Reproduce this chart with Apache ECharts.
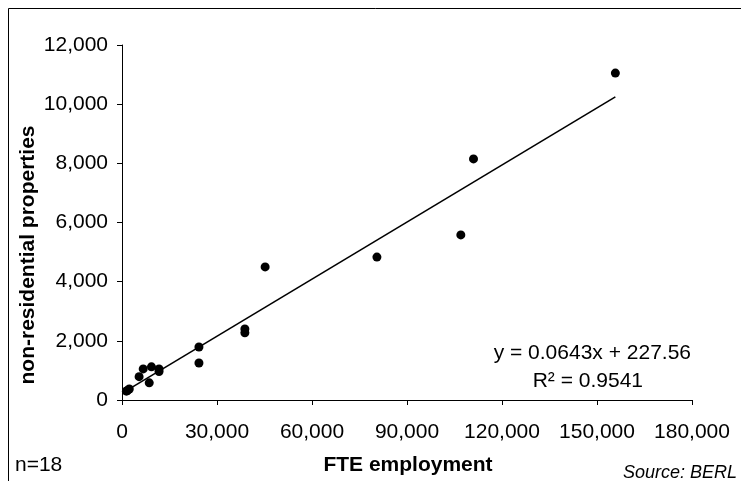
<!DOCTYPE html>
<html>
<head>
<meta charset="utf-8">
<script src="https://cdn.jsdelivr.net/npm/echarts@6/dist/echarts.min.js"></script>
<style>
  html, body { margin: 0; padding: 0; background: #fff; }
  #chart { width: 741px; height: 481px; }
</style>
</head>
<body>
<div id="chart"></div>
<script>
// FTE employment (x) vs non-residential properties (y)
var employment = [1400, 1700, 2300, 5400, 6700, 8600, 9300, 11700, 11700, 24300, 24300, 38800, 38800, 45200, 80500, 107000, 111000, 155800];
var properties = [300, 320, 370, 790, 1050, 580, 1120, 1050, 960, 1790, 1250, 2400, 2270, 4500, 4830, 5580, 8150, 11050];
var xTicks = [0, 30000, 60000, 90000, 120000, 150000, 180000];
var slope = 0.0643;
var intercept = 227.56;

var points = employment.map(function (x, i) { return [x, properties[i]]; });
var xMin = Math.min.apply(null, employment);
var xMax = Math.max.apply(null, employment);
var trend = [[xMin, slope * xMin + intercept], [xMax, slope * xMax + intercept]];

var font = "Liberation Sans, Arial, sans-serif";
var fmt = function (v) { return v.toLocaleString("en-US"); };

var chart = echarts.init(document.getElementById("chart"));
chart.setOption({
  animation: false,
  backgroundColor: "#fff",
  grid: { left: 122, top: 45, right: 49, bottom: 81 },
  xAxis: {
    type: "value",
    min: xTicks[0],
    max: xTicks[xTicks.length - 1],
    interval: 30000,
    splitLine: { show: false },
    axisLine: { onZero: false, lineStyle: { color: "#000", width: 1 } },
    axisTick: { show: true, length: 5, lineStyle: { color: "#000" } },
    axisLabel: { color: "#000", fontFamily: font, fontSize: 21, margin: 22, formatter: fmt }
  },
  yAxis: {
    type: "value",
    min: 0,
    max: 12000,
    interval: 2000,
    splitLine: { show: false },
    axisLine: { show: true, lineStyle: { color: "#000", width: 1 } },
    axisTick: { show: true, length: 5, lineStyle: { color: "#000" } },
    axisLabel: { color: "#000", fontFamily: font, fontSize: 21, margin: 14, formatter: fmt }
  },
  series: [
    {
      type: "line",
      data: trend,
      symbol: "none",
      lineStyle: { color: "#000", width: 1.6 },
      z: 1
    },
    {
      type: "scatter",
      data: points,
      symbol: "circle",
      symbolSize: 9,
      itemStyle: { color: "#000", opacity: 1 },
      z: 2
    }
  ],
  graphic: [
    {
      type: "rect",
      shape: { x: 8.5, y: 8.5, width: 800, height: 600 },
      style: { fill: null, stroke: "#000", lineWidth: 1 },
      silent: true
    },
    {
      type: "text",
      x: 28, y: 255, rotation: Math.PI / 2,
      style: { text: "non-residential properties", fontFamily: font, fontSize: 21, fontWeight: "bold", fill: "#000", align: "center", verticalAlign: "middle" }
    },
    {
      type: "text",
      x: 408, y: 465,
      style: { text: "FTE employment", fontFamily: font, fontSize: 21, fontWeight: "bold", fill: "#000", align: "center", verticalAlign: "middle" }
    },
    {
      type: "text",
      x: 15, y: 465,
      style: { text: "n=18", fontFamily: font, fontSize: 21, fill: "#000", align: "left", verticalAlign: "middle" }
    },
    {
      type: "text",
      x: 737, y: 473,
      style: { text: "Source: BERL", fontFamily: font, fontSize: 18, fontStyle: "italic", fill: "#000", align: "right", verticalAlign: "middle" }
    },
    {
      type: "text",
      x: 691, y: 353,
      style: { text: "y = " + slope + "x + " + intercept, fontFamily: font, fontSize: 21, fill: "#000", align: "right", verticalAlign: "middle" }
    },
    {
      type: "text",
      x: 643, y: 381,
      style: { text: "R² = 0.9541", fontFamily: font, fontSize: 21, fill: "#000", align: "right", verticalAlign: "middle" }
    }
  ]
});
</script>
</body>
</html>
